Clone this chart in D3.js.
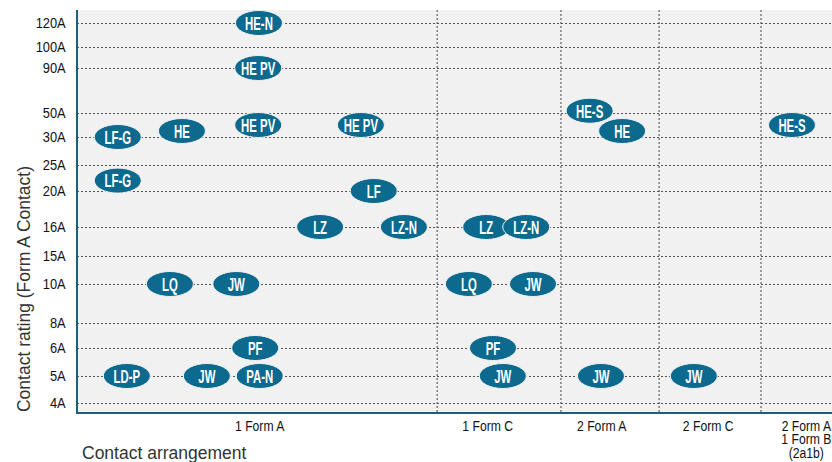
<!DOCTYPE html>
<html>
<head>
<meta charset="utf-8">
<script src="https://cdn.jsdelivr.net/npm/d3@7"></script>
<style>
  body { margin: 0; background: #fff; }
  svg { display: block; }
</style>
</head>
<body>
<svg id="chart" width="832" height="462"></svg>
<script>
// rating ticks on the y axis (amps), top to bottom
const ratingTicks = [120, 100, 90, 50, 30, 25, 20, 16, 15, 10, 8, 6, 5, 4];

// contact arrangements along x, in percent of the plot width
const arrangements = ['1 Form A', '1 Form C', '2 Form A', '2 Form C', '2 Form A\n1 Form B\n(2a1b)'];
const arrangementEdges = [0, 47.7, 64.1, 77.1, 90.6, 100];
const arrangementLabelAt = [24.2, 54.4, 69.5, 83.6, 96.6];

// relay series
const seriesNames = ['HE-N', 'HE PV', 'HE PV', 'HE', 'LF-G', 'LF-G', 'HE PV', 'LF', 'HE-S', 'HE', 'HE-S',
  'LZ', 'LZ-N', 'LZ', 'LZ-N', 'LQ', 'JW', 'LQ', 'JW', 'PF', 'PF', 'LD-P', 'JW', 'PA-N', 'JW', 'JW', 'JW'];
const seriesX = [24.1, 24.0, 24.0, 13.9, 5.4, 5.4, 37.6, 39.3, 67.9, 72.2, 94.7,
  32.2, 43.3, 54.2, 59.5, 12.3, 21.1, 51.9, 60.4, 23.6, 55.1, 6.6, 17.2, 24.2, 56.4, 69.4, 81.7];
const seriesRating = [120, 90, 40, 35, 30, 22, 40, 20, 52, 35, 40,
  16, 16, 16, 16, 10, 10, 10, 10, 6, 6, 5, 5, 5, 5, 5, 5];

const svg = d3.select('#chart');
const margin = { top: 10, right: 0, bottom: 49, left: 77 };
const width = 832 - margin.left - margin.right,
  height = 462 - margin.top - margin.bottom;

const teal = '#0b6a8e';
const sans = '"Liberation Sans", Arial, sans-serif';

const x = d3.scaleLinear().domain([0, 100]).range([0, width]);

// uneven category-like spacing of the rating ticks
const y = d3.scaleLinear()
  .domain(ratingTicks)
  .range([13, 37, 58, 103, 127, 155, 181, 217, 246, 274, 313, 338, 366, 393]);

const g = svg.append('g')
  .attr('transform', `translate(${margin.left},${margin.top})`);

g.append('rect')
  .attr('width', width)
  .attr('height', height)
  .attr('fill', '#f1f1f1');

// horizontal dashed grid
g.append('g')
  .call(d3.axisLeft(y).tickValues(ratingTicks).tickSize(-width).tickFormat(d => d + 'A'))
  .call(a => a.select('.domain').remove())
  .call(a => a.selectAll('line')
    .attr('stroke', '#555')
    .attr('stroke-dasharray', '2,2'))
  .call(a => a.selectAll('text')
    .attr('x', -11.3 / 0.92)
    .attr('transform', 'scale(0.92,1)')
    .attr('fill', '#111')
    .style('font-family', sans)
    .style('font-size', '14px'));

// vertical dashed dividers between arrangements
g.selectAll('.divider')
  .data(arrangementEdges.slice(1, -1))
  .enter().append('line')
  .attr('class', 'divider')
  .attr('x1', d => x(d))
  .attr('x2', d => x(d))
  .attr('y1', 0)
  .attr('y2', height)
  .attr('stroke', '#444')
  .attr('stroke-dasharray', '2,2');

// axis lines
g.append('line')
  .attr('x1', 0).attr('x2', 0).attr('y1', 0).attr('y2', height + 1)
  .attr('stroke', '#1f5f7a').attr('stroke-width', 2);
g.append('line')
  .attr('x1', 0).attr('x2', width).attr('y1', height).attr('y2', height)
  .attr('stroke', '#1f5f7a').attr('stroke-width', 2);

// arrangement labels
const cat = g.selectAll('.cat')
  .data(arrangements)
  .enter().append('text')
  .attr('class', 'cat')
  .attr('text-anchor', 'middle')
  .attr('fill', '#111')
  .style('font-family', sans)
  .style('font-size', '14px')
  .attr('transform', (d, i) => `translate(${x(arrangementLabelAt[i])},${height + 18}) scale(0.87,1)`);
cat.selectAll('tspan')
  .data(d => d.split('\n'))
  .enter().append('tspan')
  .attr('x', 0)
  .attr('y', (d, i) => i * 13.5)
  .text(d => d);

// bubbles
const bubbles = g.selectAll('.bubble')
  .data(seriesNames.map((name, i) => ({ name, pos: seriesX[i], rating: seriesRating[i] })))
  .enter().append('g')
  .attr('class', 'bubble')
  .attr('transform', d => `translate(${x(d.pos)},${y(d.rating)})`);

bubbles.append('ellipse')
  .attr('rx', 23.5)
  .attr('ry', 12.5)
  .attr('fill', teal)
  .attr('stroke', '#f1f1f1')
  .attr('stroke-width', 1);

bubbles.append('text')
  .attr('text-anchor', 'middle')
  .attr('dy', '0.36em')
  .attr('transform', 'scale(0.6,1)')
  .attr('fill', '#fff')
  .style('font-family', sans)
  .style('font-weight', 'bold')
  .style('font-size', '19px')
  .text(d => d.name);

// axis titles
svg.append('text')
  .attr('x', 82)
  .attr('y', 459)
  .attr('fill', '#333')
  .style('font-family', sans)
  .style('font-size', '17.5px')
  .text('Contact arrangement');

svg.append('text')
  .attr('transform', 'translate(30,289) rotate(-90)')
  .attr('text-anchor', 'middle')
  .attr('fill', '#333')
  .style('font-family', sans)
  .style('font-size', '17.5px')
  .text('Contact rating (Form A Contact)');
</script>
</body>
</html>
